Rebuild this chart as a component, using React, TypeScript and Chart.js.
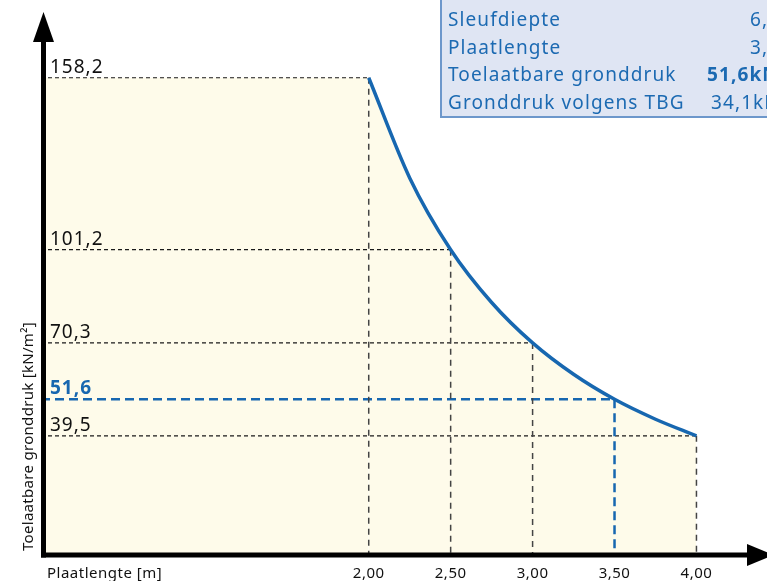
import React, { useEffect, useRef } from "react";
import { Chart, registerables } from "chart.js";

Chart.register(...registerables);

// Data
const curveX = [2.0, 2.25, 2.5, 2.75, 3.0, 3.25, 3.5, 3.75, 4.0];
const curveY = [158.2, 125.0, 101.2, 83.7, 70.3, 59.9, 51.6, 45.0, 39.5];
const markX = [2.0, 2.5, 3.0, 3.5, 4.0];
const markY = [158.2, 101.2, 70.3, 51.6, 39.5];
const xTickLabels = ["2,00", "2,50", "3,00", "3,50", "4,00"];
const yTickLabels = ["158,2", "101,2", "70,3", "51,6", "39,5"];
const highlightIndex = 3;
const xTitle = "Plaatlengte [m]";
const yTitle = "Toelaatbare gronddruk [kN/m²]";
const infoLabels = ["Sleufdiepte", "Plaatlengte", "Toelaatbare gronddruk", "Gronddruk volgens TBG"];
const infoValues = ["6,00m", "3,50m", "51,6kN/m²", "34,1kN/m²"];
const infoBold = [false, false, true, false];

const FONT = "'Noto Sans', 'Open Sans', sans-serif";
const BLUE = "#1767b0";
const CREAM = "#fefbea";

export default function App() {
  const ref = useRef<HTMLCanvasElement>(null);
  useEffect(() => {
    const canvas = ref.current!;
    const datasets: any[] = [];
    datasets.push({
      data: [{ x: 0, y: curveY[0] }, { x: curveX[0], y: curveY[0] }],
      borderWidth: 0,
      borderColor: "rgba(0,0,0,0)",
      backgroundColor: CREAM,
      fill: "origin",
      pointRadius: 0,
      order: 10,
    });
    markX.forEach((mx, i) => {
      const hi = i === highlightIndex;
      datasets.push({
        data: [{ x: 0, y: markY[i] }, { x: mx, y: markY[i] }],
        borderColor: hi ? BLUE : "#1a1a1a",
        borderWidth: hi ? 2.5 : 1.2,
        borderDash: hi ? [9, 5] : [4, 3],
        pointRadius: 0,
        fill: false,
        order: 5,
      });
      datasets.push({
        data: [{ x: mx, y: markY[i] }, { x: mx, y: 0 }],
        borderColor: hi ? BLUE : "#444",
        borderWidth: hi ? 2.5 : 1.5,
        borderDash: hi ? [9, 5] : [6, 5],
        pointRadius: 0,
        fill: false,
        order: 5,
      });
    });
    datasets.push({
      data: curveX.map((x, i) => ({ x, y: curveY[i] })),
      borderColor: BLUE,
      borderWidth: 3.5,
      backgroundColor: CREAM,
      fill: "origin",
      cubicInterpolationMode: "monotone",
      pointRadius: 0,
      order: 1,
    });

    const overlay = {
      id: "overlay",
      afterDraw(chart: any) {
        const ctx = chart.ctx as CanvasRenderingContext2D & { letterSpacing?: string };
        const xs = chart.scales.x;
        const ys = chart.scales.y;
        const x0 = xs.getPixelForValue(0) + 2.5;
        const y0 = ys.getPixelForValue(0);
        ctx.save();
        ctx.fillStyle = "#000";
        ctx.strokeStyle = "#000";
        ctx.lineWidth = 5;
        ctx.beginPath();
        ctx.moveTo(x0, y0 + 2.5);
        ctx.lineTo(x0, 40);
        ctx.stroke();
        ctx.beginPath();
        ctx.moveTo(x0 - 2.5, y0);
        ctx.lineTo(750, y0);
        ctx.stroke();
        ctx.beginPath();
        ctx.moveTo(x0, 12);
        ctx.lineTo(x0 - 10.5, 42);
        ctx.lineTo(x0 + 10.5, 42);
        ctx.closePath();
        ctx.fill();
        ctx.beginPath();
        ctx.moveTo(774, y0);
        ctx.lineTo(747, y0 - 11);
        ctx.lineTo(747, y0 + 11);
        ctx.closePath();
        ctx.fill();

        // y labels
        ctx.textAlign = "left";
        ctx.textBaseline = "alphabetic";
        ctx.letterSpacing = "1px";
        markY.forEach((v, i) => {
          const hi = i === highlightIndex;
          ctx.font = `${hi ? "bold " : ""}19px ${FONT}`;
          ctx.fillStyle = hi ? BLUE : "#111";
          ctx.fillText(yTickLabels[i], 50, ys.getPixelForValue(v) - 5);
        });
        // x labels
        ctx.letterSpacing = "0.5px";
        ctx.font = `15px ${FONT}`;
        ctx.fillStyle = "#111";
        ctx.textAlign = "center";
        markX.forEach((v, i) => {
          ctx.fillText(xTickLabels[i], xs.getPixelForValue(v), 578);
        });
        ctx.textAlign = "left";
        ctx.fillText(xTitle, 47, 578);
        // y title
        ctx.save();
        ctx.translate(33, 551);
        ctx.rotate(-Math.PI / 2);
        ctx.letterSpacing = "0.3px";
        ctx.font = `15px ${FONT}`;
        ctx.fillText(yTitle, 0, 0);
        ctx.restore();

        // info box
        ctx.fillStyle = "#dfe5f3";
        ctx.fillRect(441, -5, 340, 122);
        ctx.strokeStyle = "#6d97cb";
        ctx.lineWidth = 2;
        ctx.strokeRect(441, -5, 340, 122);
        ctx.fillStyle = "#1c6ab2";
        ctx.letterSpacing = "1.1px";
        const valX = [750, 750, 707, 711];
        infoLabels.forEach((t, i) => {
          const by = 26 + i * 27.7;
          ctx.font = `19px ${FONT}`;
          ctx.textAlign = "left";
          ctx.fillText(t, 448, by);
          ctx.font = `${infoBold[i] ? "bold " : ""}19px ${FONT}`;
          ctx.fillText(infoValues[i], valX[i], by);
        });
        ctx.restore();
      },
    };

    const chart = new Chart(canvas, {
      type: "line",
      data: { datasets },
      options: {
        responsive: false,
        animation: false,
        devicePixelRatio: 1,
        layout: { padding: { left: 41, right: 5, top: 18, bottom: 26 } },
        plugins: {
          legend: { display: false },
          tooltip: { enabled: false },
          filler: { drawTime: "beforeDatasetsDraw" },
        } as any,
        scales: {
          x: { type: "linear", min: 0, max: 4.4, display: false },
          y: { type: "linear", min: 0, max: 178, display: false },
        },
      },
      plugins: [overlay],
    });
    return () => chart.destroy();
  }, []);
  return (
    <div style={{ position: "fixed", left: 0, top: 0, width: 767, height: 581, background: "#fff" }}>
      <canvas ref={ref} width={767} height={581} style={{ display: "block" }} />
    </div>
  );
}
